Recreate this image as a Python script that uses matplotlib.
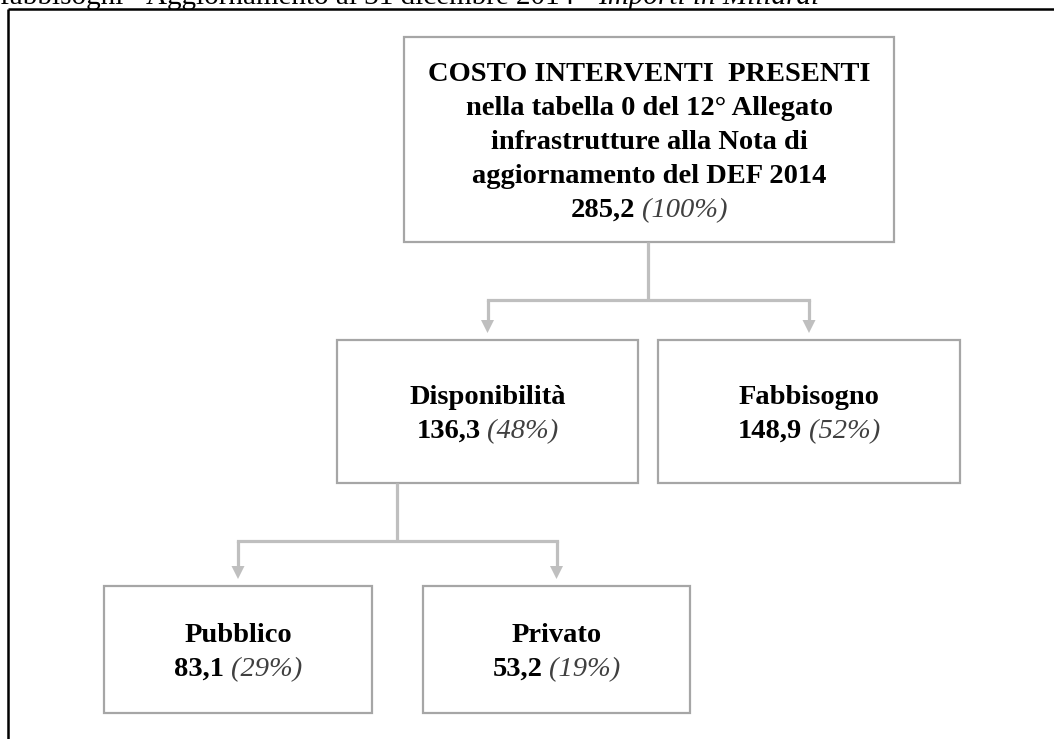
import matplotlib.pyplot as plt
from matplotlib.patches import Rectangle, Polygon

# --- data ---------------------------------------------------------------
labels = [
    "COSTO INTERVENTI  PRESENTI\nnella tabella 0 del 12° Allegato\ninfrastrutture alla Nota di\naggiornamento del DEF 2014",
    "Disponibilità",
    "Fabbisogno",
    "Pubblico",
    "Privato",
]
values = [285.2, 136.3, 148.9, 83.1, 53.2]
parents = [None, 0, 0, 1, 1]
caption = "fabbisogni - Aggiornamento al 31 dicembre 2014 - "
caption_it = "Importi in Miliardi"

# --- layout (pixels, y downwards) ---------------------------------------
boxes = [
    (404, 37, 894, 242),
    (337, 340, 638, 483),
    (658, 340, 960, 483),
    (104, 586, 372, 713),
    (423, 586, 690, 713),
]
W, H = 1054, 739
box_col = "#a6a6a6"
line_col = "#bfbfbf"
font = "Liberation Serif"
fs = 20.5
line_step = 34

fig = plt.figure(figsize=(W / 100, H / 100), dpi=100)
ax = fig.add_axes([0, 0, 1, 1])
ax.set_xlim(0, W)
ax.set_ylim(H, 0)
ax.axis("off")

# page frame and caption (cut off at the top edge, as in the source page)
ax.plot([8, W], [9, 9], color="black", lw=1.8, solid_capstyle="butt")
ax.plot([8, 8], [9, H], color="black", lw=1.8, solid_capstyle="butt")
t1 = ax.text(0, 4, caption, fontsize=21, family=font, va="baseline", ha="left")
renderer = fig.canvas.get_renderer()
cw = t1.get_window_extent(renderer).width
ax.text(cw, 4, caption_it, fontsize=21, family=font, style="italic",
        va="baseline", ha="left")

total = values[0]

for i, (x0, y0, x1, y1) in enumerate(boxes):
    ax.add_patch(Rectangle((x0, y0), x1 - x0, y1 - y0, fill=False,
                           edgecolor=box_col, lw=1.6))
    lines = labels[i].split("\n")
    n = len(lines) + 1
    cx = (x0 + x1) / 2
    cy = (y0 + y1) / 2
    ys = [cy + (k - (n - 1) / 2) * line_step for k in range(n)]
    for k, ln in enumerate(lines):
        ax.text(cx, ys[k], ln, fontsize=fs, family=font, weight="bold",
                ha="center", va="center_baseline")
    # value + percentage line
    val = f"{values[i]:.1f}".replace(".", ",")
    pct = f"({round(values[i] / total * 100)}%)"
    tv = ax.text(0, ys[-1], val, fontsize=fs, family=font, weight="bold",
                 ha="left", va="center_baseline")
    tp = ax.text(0, ys[-1], pct, fontsize=fs, family=font, style="italic",
                 color="#404040", ha="left", va="center_baseline")
    wv = tv.get_window_extent(renderer).width
    wp = tp.get_window_extent(renderer).width
    gap = 7
    start = cx - (wv + gap + wp) / 2
    tv.set_x(start)
    tp.set_x(start + wv + gap)

# connectors
for p in sorted(set(q for q in parents if q is not None)):
    kids = [i for i, q in enumerate(parents) if q == p]
    px0, py0, px1, py1 = boxes[p]
    kx = [(boxes[k][0] + boxes[k][2]) / 2 for k in kids]
    stem_x = sum(kx) / len(kx)
    bar_y = py1 + 58
    ax.plot([stem_x, stem_x], [py1, bar_y], color=line_col, lw=2.3,
            solid_capstyle="butt")
    ax.plot([min(kx), max(kx)], [bar_y, bar_y], color=line_col, lw=2.3,
            solid_capstyle="projecting")
    for k, x in zip(kids, kx):
        tip = boxes[k][1] - 7
        ax.plot([x, x], [bar_y, tip - 10], color=line_col, lw=2.3,
                solid_capstyle="butt")
        ax.add_patch(Polygon([(x - 6.5, tip - 13), (x + 6.5, tip - 13), (x, tip)],
                             closed=True, color=line_col, lw=0))

fig.savefig("out.png", dpi=100)
